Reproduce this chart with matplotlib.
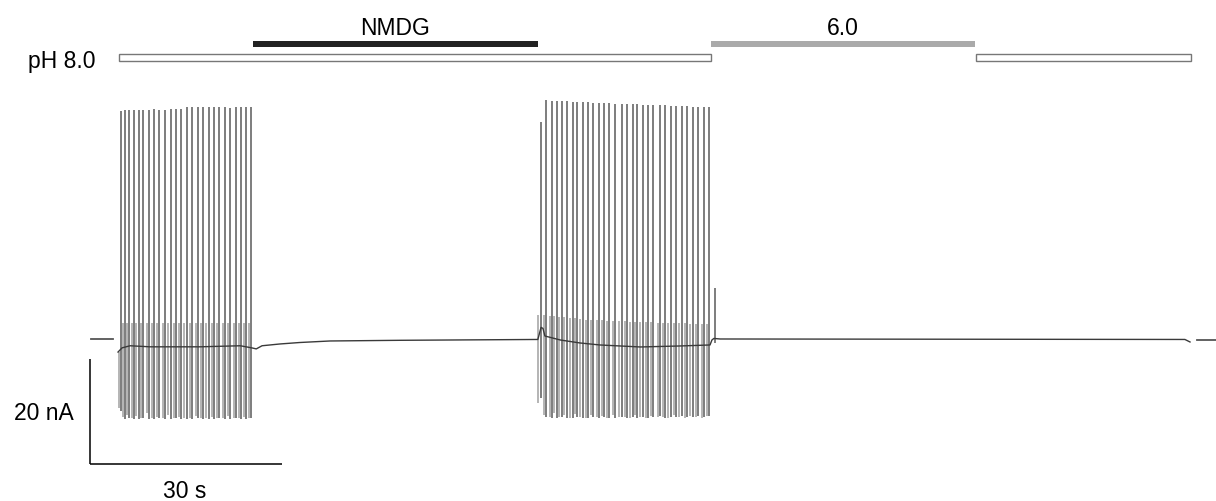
import matplotlib
matplotlib.use('Agg')
import matplotlib.pyplot as plt
from matplotlib.patches import Rectangle

# ---------------- data (time in s, current in nA) ----------------
# burst 1 (control pH 8.0)
b1_t = [0.47, 1.09, 1.77, 2.50, 3.23, 3.95, 4.84, 5.63, 6.45, 7.34, 8.23, 9.06, 9.89,
        10.73, 11.61, 12.50, 13.33, 14.17, 15.00, 15.83, 16.72, 17.55, 18.44, 19.22, 20.00, 20.83]
b1_up = [43.6, 43.8, 43.8, 43.9, 43.8, 43.9, 43.8, 44.0, 43.9, 43.9, 44.0, 44.0, 44.0,
         44.3, 44.4, 44.4, 44.3, 44.4, 44.4, 44.3, 44.4, 44.2, 44.4, 44.3, 44.4, 44.4]
b1_down = [-13.5, -15.0, -14.9, -15.0, -15.0, -14.9, -15.0, -15.0, -14.9, -15.0, -15.0, -14.9, -15.0,
           -15.0, -15.0, -14.9, -15.0, -15.0, -15.0, -14.9, -15.0, -15.0, -14.9, -15.0, -15.0, -14.8]
b1_light_up = [-2.3, 3.2, 3.2, 3.3, 3.2, 3.3, 3.2, 3.3, 3.2, 3.3, 3.2, 3.3, 3.2,
               3.3, 3.2, 3.3, 3.2, 3.3, 3.2, 3.3, 3.2, 3.3, 3.2, 3.3, 3.2, 3.3]
b1_light_down = [-13.0, -14.6, -14.2, -14.8, -14.5, -14.8, -14.0, -14.8, -14.6, -14.8, -14.3, -14.8, -14.6,
                 -14.8, -14.8, -14.5, -14.8, -14.8, -14.6, -14.8, -14.8, -14.5, -14.8, -14.8, -14.6, -14.8]

# burst 2 (after NMDG washout)
b2_t = [66.05, 66.88, 67.77, 68.55, 69.33, 70.11, 71.05, 71.77, 72.61, 73.48, 74.27, 75.16, 75.94,
        76.77, 77.72, 78.70, 79.58, 80.42, 81.14, 81.98, 82.86, 83.64, 84.69, 85.47, 86.36, 87.19,
        88.08, 88.95, 89.80, 90.67, 91.56, 92.39, 93.28]
b2_up = [41.5, 45.7, 45.6, 45.6, 45.5, 45.5, 45.4, 45.4, 45.3, 45.3, 45.2, 45.2, 45.1,
         45.1, 45.0, 45.0, 44.9, 44.9, 44.9, 44.8, 44.8, 44.7, 44.7, 44.7, 44.6, 44.6,
         44.5, 44.5, 44.4, 44.4, 44.3, 44.3, 9.9]
b2_down = [-11.0, -14.6, -14.8, -14.9, -14.6, -14.8, -14.9, -14.7, -14.9, -14.8, -14.6, -14.9, -14.7,
           -14.8, -14.9, -14.6, -14.8, -14.7, -14.9, -14.6, -14.8, -14.7, -14.5, -14.8, -14.6, -14.7,
           -14.5, -14.6, -14.7, -14.4, -14.6, -14.5, -0.5]
b2_light_up = [4.8, 4.7, 4.6, 4.5, 4.4, 4.3, 4.2, 4.1, 4.0, 3.9, 3.9, 3.8, 3.8,
               3.7, 3.7, 3.6, 3.6, 3.5, 3.5, 3.4, 3.4, 3.4, 3.3, 3.3, 3.3, 3.2,
               3.2, 3.2, 3.1, 3.1, 3.1, 3.0]
b2_light_down = [-12.0, -14.2, -14.6, -14.0, -14.7, -14.3, -14.8, -14.1, -14.6, -14.8, -14.2, -14.7, -14.5,
                 -14.8, -14.3, -14.7, -14.6, -14.8, -14.2, -14.7, -14.8, -14.4, -14.7, -14.6, -14.8, -14.3,
                 -14.7, -14.8, -14.5, -14.7, -14.8, -14.4]

# holding-current baseline
base_t = [0.0, 0.63, 1.88, 5.0, 12.8, 19.1, 20.9, 21.6, 22.5, 25.3, 28.4, 33.1, 44.1, 65.6,
          66.1, 66.4, 66.7, 69.1, 72.2, 75.3, 81.6, 87.8, 92.5, 92.8, 93.1, 94.1, 166.7, 167.5]
base_i = [-2.3, -1.5, -1.1, -1.3, -1.3, -1.1, -1.5, -1.7, -1.1, -0.76, -0.48, -0.19, -0.06, 0.1,
          2.4, 2.2, 0.76, 0.0, -0.57, -0.95, -1.33, -1.14, -0.95, 0.0, 0.29, 0.19, 0.1, -0.38]

# solution bars (s)
ph8_periods = [(0.16, 92.66), (134.06, 167.66)]
nmdg_period = (21.1, 65.6)
ph6_period = (92.66, 133.9)

# ---------------- figure ----------------
plt.rcParams['font.family'] = ['Liberation Sans', 'DejaVu Sans']
fig = plt.figure(figsize=(12.16, 5.01), dpi=100)
ax = fig.add_axes([0, 0, 1, 1])
ax.set_xlim(-18.44, 171.56)
ax.set_ylim(-30.67, 64.76)
ax.axis('off')

DARK = '#5a5a5a'
LIGHT = '#a0a0a0'
LOFF = 0.35

for times, lu, ld in [(b1_t, b1_light_up, b1_light_down), (b2_t, b2_light_up, b2_light_down)]:
    ax.vlines([t - LOFF for t in times[:len(lu)]], ld, lu, color=LIGHT, lw=1.1)
for times, up, dn in [(b1_t, b1_up, b1_down), (b2_t, b2_up, b2_down)]:
    ax.vlines(times, dn, up, color=DARK, lw=1.1)

ax.plot(base_t, base_i, color='#3a3a3a', lw=1.0)

# zero-current markers
ax.plot([-4.22, -0.78], [0.13, 0.13], color='#555555', lw=1.3)
ax.plot([168.6, 171.56], [0.0, 0.0], color='#555555', lw=1.3)

# solution bars
for (a, b) in ph8_periods:
    ax.add_patch(Rectangle((a, 53.14), b - a, 1.28, facecolor='white',
                           edgecolor='#777777', lw=1.0))
ax.add_patch(Rectangle((nmdg_period[0], 55.81), nmdg_period[1] - nmdg_period[0], 1.14,
                       facecolor='#222222', edgecolor='none'))
ax.add_patch(Rectangle((ph6_period[0], 55.81), ph6_period[1] - ph6_period[0], 1.14,
                       facecolor='#aaaaaa', edgecolor='none'))

fs = 16.5
ax.text(-3.59, 51.75, 'pH 8.0', ha='right', va='baseline', fontsize=fs)
ax.text(sum(nmdg_period) / 2, 58.1, 'NMDG', ha='center', va='baseline', fontsize=fs)
ax.text(sum(ph6_period) / 2, 58.1, '6.0', ha='center', va='baseline', fontsize=fs)

# scale bars
ax.plot([-4.375, -4.375], [-3.6, -23.6], color='k', lw=1.1, solid_capstyle='butt')
ax.plot([-4.375, 25.625], [-23.6, -23.6], color='k', lw=1.1, solid_capstyle='butt')
ax.text(-6.98, -15.24, '20 nA', ha='right', va='baseline', fontsize=fs)
ax.text(10.47, -30.1, '30 s', ha='center', va='baseline', fontsize=fs)

fig.savefig('out.png', dpi=100)
